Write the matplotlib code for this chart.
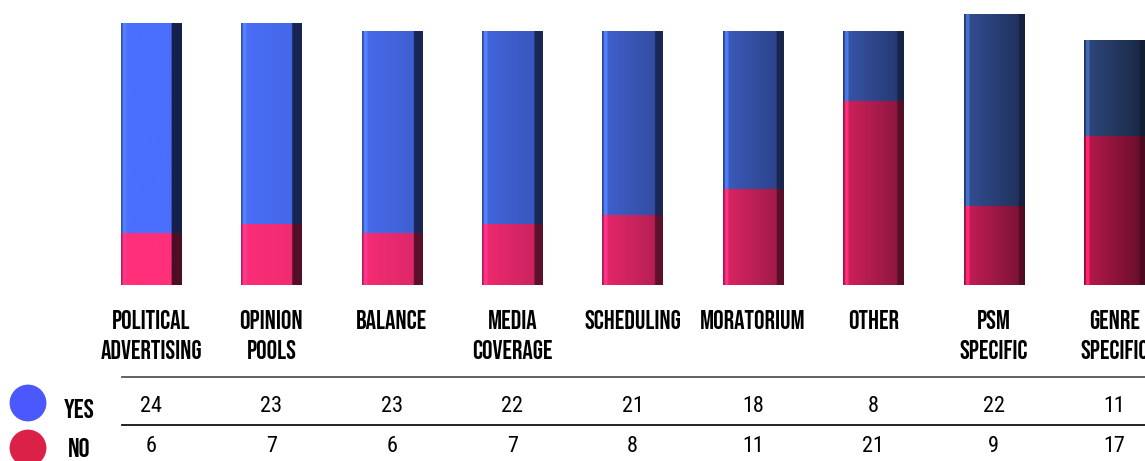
import numpy as np
import matplotlib
matplotlib.use("Agg")
import matplotlib.pyplot as plt
from matplotlib import font_manager
from matplotlib.colors import to_rgb

categories = ["POLITICAL\nADVERTISING", "OPINION\nPOOLS", "BALANCE", "MEDIA\nCOVERAGE",
              "SCHEDULING", "MORATORIUM", "OTHER", "PSM\nSPECIFIC", "GENRE\nSPECIFIC"]
yes = [24, 23, 23, 22, 21, 18, 8, 22, 11]
no = [6, 7, 6, 7, 8, 11, 21, 9, 17]
series = ["YES", "NO"]

installed = set(f.name for f in font_manager.fontManager.ttflist)


def pick(*fams):
    for f in fams:
        if f in installed:
            return f
    return "DejaVu Sans"


head_font = pick("Bebas Neue", "Oswald", "Barlow Condensed")
num_font = pick("Roboto Condensed", "Barlow Condensed", "Archivo Narrow")
plt.rcParams['font.family'] = [num_font, 'DejaVu Sans']

W, H = 1145, 461
fig = plt.figure(figsize=(W / 100, H / 100), dpi=100)

# layout overlay in pixel coordinates
lay = fig.add_axes([0, 0, 1, 1])
lay.set_xlim(0, W)
lay.set_ylim(H, 0)
lay.axis("off")

# bar axes
step = 120.4
x0 = 151
bottom_px, top_px = 285, 14
ymax = 31
ax = fig.add_axes([0, 1 - bottom_px / H, 1, (bottom_px - top_px) / H])
ax.axis("off")

x = np.arange(len(categories))
width = 0.5

blue_a, blue_b = np.array(to_rgb("#4a6ffc")), np.array(to_rgb("#2d4679"))
red_a, red_b = np.array(to_rgb("#ff2f7a")), np.array(to_rgb("#b3194b"))


def shade(base, t, n=200):
    u = np.linspace(0, 1, n)
    f = np.ones(n)
    f[u < 0.03] = 0.75
    f[(u >= 0.03) & (u < 0.09)] = 1.15 + 0.35 * t
    body = u >= 0.09
    f[body] = 1.0 - t * 0.45 * (u[body] - 0.09) / 0.91
    dark = u > 0.83 + 0.08 * t
    f[dark] = f[dark] * (0.3 + 0.45 * t)
    cols = np.clip(base[None, :] * f[:, None], 0, 1)
    return cols[None, :, :]


bars_no = ax.bar(x, no, width, color="none", edgecolor="none")
bars_yes = ax.bar(x, yes, width, bottom=no, color="none", edgecolor="none")
for i in range(len(categories)):
    t = i / (len(categories) - 1)
    tc = t ** 1.4
    for bars, a, b in ((bars_no, red_a, red_b), (bars_yes, blue_a, blue_b)):
        p = bars[i]
        base = a * (1 - tc) + b * tc
        im = ax.imshow(shade(base, t), extent=[p.get_x(), p.get_x() + p.get_width(),
                                               p.get_y(), p.get_y() + p.get_height()],
                       aspect="auto", interpolation="bilinear", zorder=2)
        im.set_clip_path(p)

ax.set_xlim(-x0 / step, (W - x0) / step)
ax.set_ylim(0, ymax)

tr = ax.get_xaxis_transform()


def ay(py):
    return (bottom_px - py) / (bottom_px - top_px)


for i, c in enumerate(categories):
    ax.text(x[i], ay(310), c, transform=tr, ha="center", va="top", fontsize=18.7,
            family=[head_font, 'DejaVu Sans'], linespacing=1.6, clip_on=False)
    ax.text(x[i], ay(407), str(yes[i]), transform=tr, ha="center", va="center",
            fontsize=16, clip_on=False)
    ax.text(x[i], ay(446), str(no[i]), transform=tr, ha="center", va="center",
            fontsize=16, clip_on=False)

lay.plot([122, W], [377, 377], color="#555555", lw=1.3)
lay.plot([122, W], [425, 425], color="#111111", lw=1.3)
lay.scatter([28, 28], [403, 448], s=[650, 650], color=["#4a58fd", "#dc2148"], zorder=3)
lay.text(79, 408, series[0], ha="center", va="center", fontsize=19.5,
         family=[head_font, 'DejaVu Sans'])
lay.text(79, 447, series[1], ha="center", va="center", fontsize=19.5,
         family=[head_font, 'DejaVu Sans'])

fig.savefig("out.png", dpi=100)
